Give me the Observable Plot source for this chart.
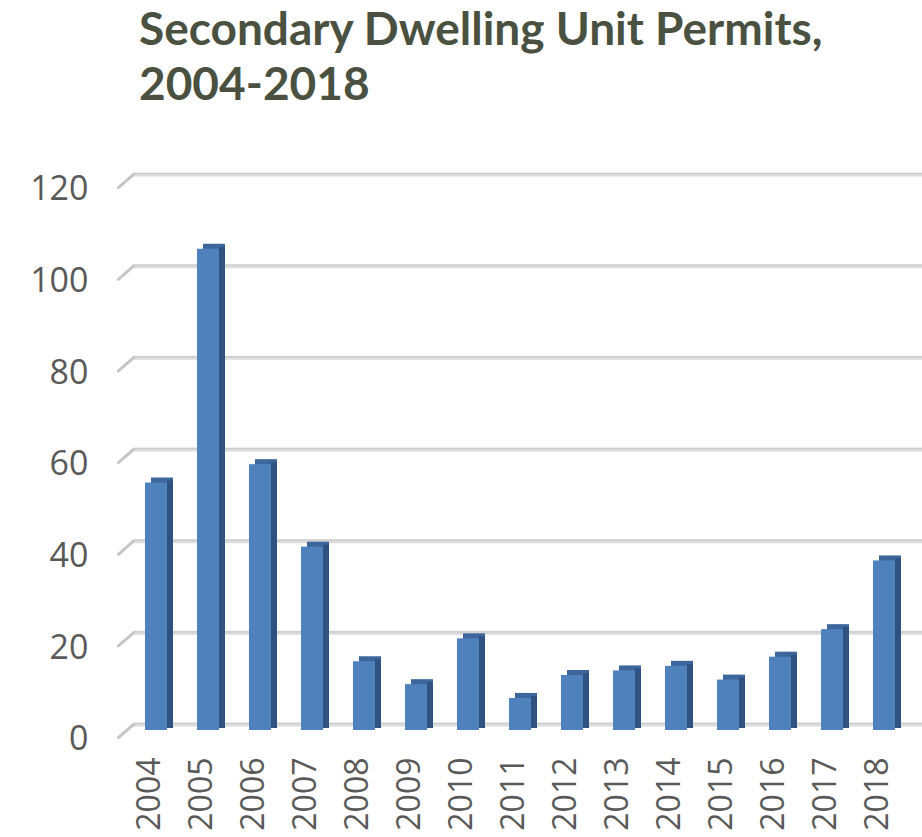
<!DOCTYPE html>
<html><head><meta charset="utf-8">
<script src="https://cdn.jsdelivr.net/npm/d3@7"></script>
<script src="https://cdn.jsdelivr.net/npm/@observablehq/plot@0.6"></script>
<style>
body{margin:0;background:#fff;width:922px;height:837px;overflow:hidden;position:relative}
#title{position:absolute;left:139px;top:0px;font-family:Lato;font-weight:700;font-size:46px;line-height:55px;color:#4a5141;white-space:nowrap}
#chart{position:absolute;left:0;top:120px}
</style></head><body>
<div id="title">Secondary Dwelling Unit Permits,<br>2004-2018</div>
<div id="chart"></div>
<script>
const years = ["2004","2005","2006","2007","2008","2009","2010","2011","2012","2013","2014","2015","2016","2017","2018"];
const permits = [54,105,58,40,15,10,20,7,12,13,14,11,16,22,37];
const yTicks = [0,20,40,60,80,100,120];
const data = years.map((year, i) => ({year, permits: permits[i]}));

const lineShape = {draw(context, l) { context.moveTo(0, 0); context.lineTo(0, -l); }};

const plot = Plot.plot({
  width: 922, height: 717,
  marginLeft: 133, marginRight: 0, marginTop: 54, marginBottom: 113,
  style: {background: "transparent", fontFamily: "Open Sans"},
  x: {type: "band", domain: years, range: [127, 913], paddingInner: 0.58, paddingOuter: 0.29, axis: null},
  y: {domain: [0, 120], range: [604, 54], axis: null},
  marks: [
    Plot.ruleY(yTicks, {stroke: "#dcdcdc", strokeWidth: 4}),
    Plot.ruleY(yTicks, {stroke: "#cbcbcb", strokeWidth: 1.2, dy: -1}),
    Plot.vector(yTicks, {y: d => d, frameAnchor: "left", length: 20, rotate: 49, anchor: "end", stroke: "#c6c6c6", strokeWidth: 3, shape: lineShape}),
    Plot.axisY({ticks: yTicks, label: null, tickSize: 0, tickPadding: 45, dy: 15, fontSize: 34, fill: "#595959"}),
    Plot.barY(data, {x: "year", y: "permits", fill: "#3d679c", dx: 6, dy: 1}),
    Plot.barY(data, {x: "year", y: "permits", fill: "#2f5281", dx: 6, dy: 4, insetLeft: 16}),
    Plot.barY(data, {x: "year", y: "permits", fill: "#4f81bd", dy: 6}),
    Plot.text(data, {x: "year", text: "year", frameAnchor: "bottom", rotate: -90, textAnchor: "end", lineAnchor: "middle", dy: 33, dx: -7, fontSize: 32, fill: "#595959"})
  ]
});
document.getElementById("chart").appendChild(plot);
</script>
</body></html>
